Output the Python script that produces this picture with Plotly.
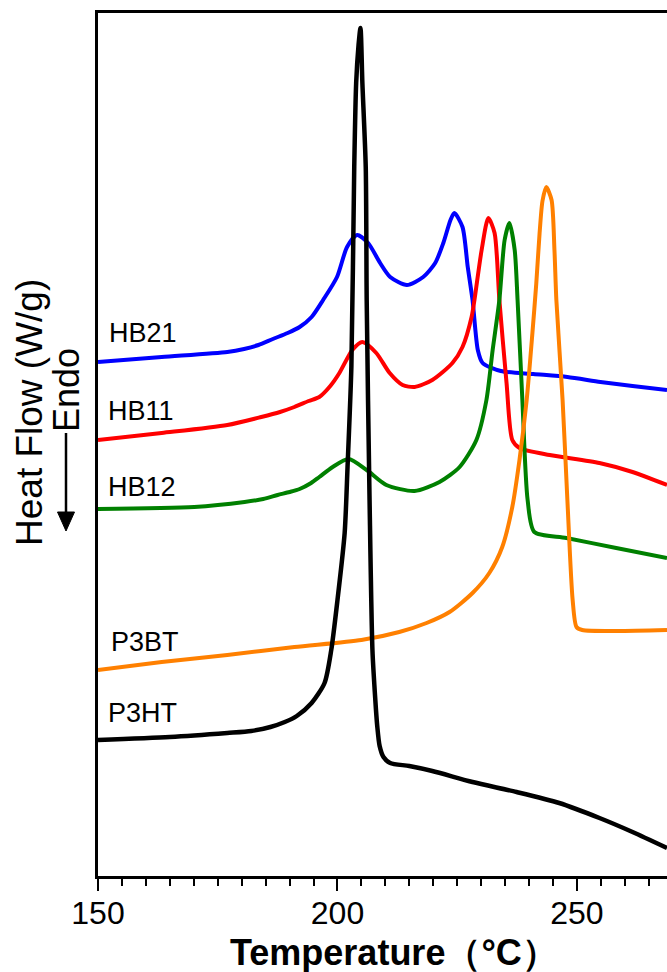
import plotly.graph_objects as go

# ---- data (temperature in °C, heat flow in arbitrary offset units) ----
p3ht_T = [150, 165, 177.0, 182.0, 186.0, 189.0, 191.5, 194.6, 197.3, 198.7, 200.0, 201.5,
          202.1, 202.9, 203.5, 203.9, 204.4, 204.8, 205.2, 205.9, 206.1, 206.7, 207.3, 207.9,
          208.3, 208.8, 209.6, 211.0, 215.0, 219.8, 228.2, 237.4, 246.3, 254.7, 261.6, 268.8]
p3ht_H = [1.36, 1.39, 1.43, 1.45, 1.49, 1.54, 1.60, 1.73, 1.93, 2.26, 2.76, 3.43,
          4.09, 5.09, 7.09, 7.93, 8.31, 8.48, 7.93, 7.09, 5.76, 3.76, 2.26, 1.76,
          1.50, 1.30, 1.19, 1.13, 1.10, 1.05, 0.94, 0.84, 0.73, 0.58, 0.44, 0.28]

hb21_T = [150, 163.3, 177.0, 180.5, 183.5, 186.5, 189.6, 192.1, 194.6, 197.0, 199.9, 202.0,
          204.1, 206.4, 208.9, 211.0, 214.5, 217.9, 220.4, 222.1, 223.6, 224.4, 226.1, 227.2,
          228.2, 229.3, 230.3, 234.1, 240.9, 248.0, 254.9, 261.6, 268.8]
hb21_H = [5.14, 5.19, 5.24, 5.27, 5.31, 5.37, 5.43, 5.49, 5.59, 5.76, 5.99, 6.29,
          6.41, 6.33, 6.13, 5.99, 5.91, 5.99, 6.13, 6.33, 6.56, 6.63, 6.49, 6.09,
          5.76, 5.26, 5.13, 5.05, 5.02, 4.99, 4.94, 4.90, 4.86]

hb11_T = [150, 163.3, 177.0, 184.1, 188.0, 191.0, 194.0, 196.2, 198.5, 200.4, 203.1, 205.2,
          208.1, 210.9, 213.6, 216.1, 219.8, 224.0, 226.1, 228.0, 228.6, 230.1, 231.5, 232.8,
          233.8, 235.3, 236.5, 238.0, 244.3, 254.7, 261.6, 268.8]
hb11_H = [4.36, 4.43, 4.51, 4.59, 4.64, 4.69, 4.75, 4.79, 4.90, 5.03, 5.26, 5.34,
          5.23, 5.03, 4.91, 4.89, 4.96, 5.13, 5.29, 5.59, 5.76, 6.26, 6.58, 6.43,
          5.76, 4.93, 4.36, 4.28, 4.21, 4.13, 4.04, 3.91]

hb12_T = [150, 170.1, 180.6, 184.5, 187.5, 190.0, 192.1, 194.5, 196.2, 199.0, 202.3, 206.1,
          210.2, 216.1, 221.3, 225.5, 229.0, 231.1, 232.4, 233.8, 234.9, 235.9, 237.0, 237.6,
          238.6, 239.7, 241.1, 247.8, 258.2, 268.8]
hb12_H = [3.67, 3.69, 3.74, 3.77, 3.81, 3.84, 3.87, 3.93, 3.99, 4.09, 4.17, 4.06,
          3.91, 3.85, 3.94, 4.09, 4.36, 4.76, 5.26, 5.76, 6.36, 6.53, 6.26, 5.76,
          4.76, 3.76, 3.44, 3.38, 3.28, 3.18]

p3bt_T = [150, 163.3, 177.0, 191.0, 205.0, 212.9, 218.6, 223.4, 228.2, 231.7, 234.4, 236.5,
          238.0, 239.5, 240.7, 241.5, 242.2, 242.8, 243.6, 244.7, 245.3, 245.7, 247.0, 248.0,
          249.1, 249.9, 251.1, 258.2, 268.8]
p3bt_H = [2.06, 2.14, 2.21, 2.29, 2.36, 2.44, 2.53, 2.64, 2.83, 3.03, 3.29, 3.69,
          4.16, 4.76, 5.43, 5.92, 6.43, 6.75, 6.89, 6.76, 6.26, 5.76, 4.76, 3.76,
          2.76, 2.49, 2.46, 2.45, 2.46]

series_names = ["HB21", "HB11", "HB12", "P3BT", "P3HT"]
series_T = [hb21_T, hb11_T, hb12_T, p3bt_T, p3ht_T]
series_H = [hb21_H, hb11_H, hb12_H, p3bt_H, p3ht_H]
x_ticks = [150, 200, 250]

# ---- styling ----
colors = {"HB21": "#0000FF", "HB11": "#FF0000", "HB12": "#008000",
          "P3BT": "#FF8000", "P3HT": "#000000"}
label_pos = {"HB21": (151.8, 5.43), "HB11": (151.6, 4.65), "HB12": (151.6, 3.89),
             "P3BT": (152.2, 2.34), "P3HT": (151.6, 1.63)}
FONT = "Liberation Sans, Arial, sans-serif"

fig = go.Figure()
for name, T, H in zip(series_names, series_T, series_H):
    fig.add_trace(go.Scatter(x=T, y=H, mode="lines", name=name,
                             line=dict(color=colors[name], width=4.5 if name == "P3HT" else 4,
                                       shape="spline", smoothing=0.7),
                             showlegend=False, hoverinfo="skip"))

annotations = []
for name in series_names:
    lx, ly = label_pos[name]
    annotations.append(dict(x=lx, y=ly, xref="x", yref="y", text=name, showarrow=False,
                            xanchor="left", yanchor="middle",
                            font=dict(family=FONT, size=27, color="black")))

W, H = 667, 972
L, R, T, B = 98, 0, 13, 96
pw, ph = W - L - R, H - T - B


def px2paper(px, py):
    return (px - L) / pw, (H - B - py) / ph


hx, hy = px2paper(29, 413)
annotations.append(dict(x=hx, y=hy, xref="paper", yref="paper", text="Heat Flow (W/g)",
                        showarrow=False, textangle=-90, xanchor="center", yanchor="middle",
                        font=dict(family=FONT, size=37, color="black")))
ex, ey = px2paper(66, 390)
annotations.append(dict(x=ex, y=ey, xref="paper", yref="paper", text="Endo",
                        showarrow=False, textangle=-90, xanchor="center", yanchor="middle",
                        font=dict(family=FONT, size=36, color="black")))

tx, ty = px2paper(394, 952)
annotations.append(dict(x=tx, y=ty, xref="paper", yref="paper", text="<b>Temperature（°C）</b>",
                        showarrow=False, xanchor="center", yanchor="middle",
                        font=dict(family=FONT, size=36, color="black")))

# arrow (decoration)
a0x, a0y = px2paper(66, 433)
a1x, a1y = px2paper(66, 515)
hl, hr = px2paper(57.5, 513)[0], px2paper(74.5, 513)[0]
tipx, tipy = px2paper(66, 531)
_, baseY = px2paper(66, 512)
shapes = [
    dict(type="line", xref="paper", yref="paper", x0=a0x, y0=a0y, x1=a1x, y1=a1y,
         line=dict(color="black", width=2.5)),
    dict(type="path", xref="paper", yref="paper",
         path=f"M {hl} {baseY} L {hr} {baseY} L {tipx} {tipy} Z",
         fillcolor="black", line=dict(color="black", width=1)),
]

fig.update_layout(
    width=W, height=H,
    margin=dict(l=L, r=R, t=T, b=B, pad=0),
    paper_bgcolor="white", plot_bgcolor="white",
    annotations=annotations, shapes=shapes,
    xaxis=dict(range=[150, 268.8], tickvals=x_ticks, ticktext=[str(v) for v in x_ticks],
               showline=True, linecolor="black", linewidth=2.5, mirror=True,
               ticks="outside", ticklen=12, tickwidth=2, tickcolor="black",
               ticklabelstandoff=-5,
               minor=dict(tick0=150, dtick=5, ticks="outside", ticklen=7, tickwidth=2,
                          tickcolor="black"),
               showgrid=False, zeroline=False,
               tickfont=dict(family=FONT, size=32, color="black")),
    yaxis=dict(range=[0, 8.63], showline=True, linecolor="black", linewidth=2.5,
               showticklabels=False, ticks="", showgrid=False, zeroline=False),
)

fig.write_html("out.html")
